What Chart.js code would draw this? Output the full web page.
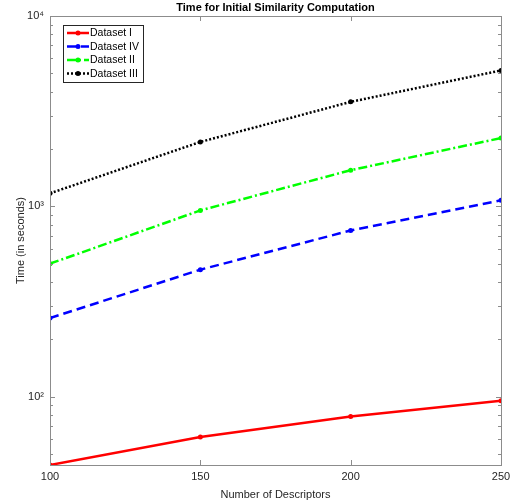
<!DOCTYPE html>
<html>
<head>
<meta charset="utf-8">
<script src="https://cdn.jsdelivr.net/npm/chart.js@4.4.1/dist/chart.umd.min.js"></script>
<style>
html,body{margin:0;padding:0;background:#fff;}
canvas{display:block;}
</style>
</head>
<body>
<canvas id="c" width="522" height="502"></canvas>
<script>
const descriptors = [100, 150, 200, 250];
const datasetI   = [43.8, 61.5, 78.7, 95.2];
const datasetIV  = [259, 465, 747, 1076];
const datasetII  = [500, 952, 1549, 2285];
const datasetIII = [1171, 2180, 3540, 5176];
const seriesNames = ['Dataset I', 'Dataset IV', 'Dataset II', 'Dataset III'];
const xTicks = [100, 150, 200, 250];
const yMax = 10000;
const chartTitle = 'Time for Initial Similarity Computation';

const FONT = '"Liberation Sans", Arial, Helvetica, sans-serif';
const pts = arr => descriptors.map((x, i) => ({x: x, y: arr[i]}));

const styles = [
  {color: '#ff0000', dash: []},
  {color: '#0000ff', dash: [9, 5]},
  {color: '#00ff00', dash: [9, 3, 2, 3]},
  {color: '#000000', dash: [2, 2]}
];
const allSeries = [datasetI, datasetIV, datasetII, datasetIII];

const datasets = allSeries.map((arr, i) => ({
  label: seriesNames[i],
  data: pts(arr),
  borderColor: styles[i].color,
  backgroundColor: styles[i].color,
  borderWidth: 2.5,
  borderDash: styles[i].dash,
  borderCapStyle: 'butt',
  pointRadius: 2.5,
  pointBorderWidth: 0,
  pointBackgroundColor: styles[i].color,
  tension: 0
}));

const boxPlugin = {
  id: 'matlabBox',
  afterDraw(chart) {
    const ctx = chart.ctx;
    const a = chart.chartArea;
    const xs = chart.scales.x, ys = chart.scales.y;
    ctx.save();
    // title centred over the axes
    ctx.fillStyle = '#000';
    ctx.font = 'bold 11px ' + FONT;
    ctx.textAlign = 'center';
    ctx.textBaseline = 'middle';
    ctx.fillText(chartTitle, (a.left + a.right) / 2, 8);

    ctx.strokeStyle = '#8c8c8c';
    ctx.lineWidth = 1;
    ctx.strokeRect(Math.round(a.left) + 0.5, Math.round(a.top) + 0.5,
                   Math.round(a.right - a.left), Math.round(a.bottom - a.top));
    ctx.beginPath();
    xTicks.forEach(v => {
      const px = Math.round(xs.getPixelForValue(v)) + 0.5;
      ctx.moveTo(px, a.bottom); ctx.lineTo(px, a.bottom - 5);
      ctx.moveTo(px, a.top); ctx.lineTo(px, a.top + 5);
    });
    ys.ticks.forEach(t => {
      const v = t.value;
      const lg = Math.log10(v);
      const major = Math.abs(lg - Math.round(lg)) < 1e-9;
      const mant = v / Math.pow(10, Math.floor(lg + 1e-9));
      if (!major && Math.abs(mant - Math.round(mant)) > 1e-6) return;
      const py = Math.round(ys.getPixelForValue(v)) + 0.5;
      const len = major ? 5 : 3;
      ctx.moveTo(a.left, py); ctx.lineTo(a.left + len, py);
      ctx.moveTo(a.right, py); ctx.lineTo(a.right - len, py);
    });
    ctx.stroke();

    // legend
    const lx = 63, ly = 25, lw = 80, lh = 57;
    ctx.fillStyle = '#ffffff';
    ctx.fillRect(lx, ly, lw, lh);
    ctx.strokeStyle = '#262626';
    ctx.strokeRect(lx + 0.5, ly + 0.5, lw, lh);
    const rows = [33, 46.5, 60, 73.5];
    chart.data.datasets.forEach((ds, i) => {
      const y = rows[i];
      ctx.beginPath();
      ctx.setLineDash(ds.borderDash);
      ctx.strokeStyle = ds.borderColor;
      ctx.lineWidth = 2.5;
      ctx.moveTo(67, y); ctx.lineTo(89, y);
      ctx.stroke();
      ctx.setLineDash([]);
      ctx.beginPath();
      ctx.fillStyle = ds.borderColor;
      ctx.arc(78, y, 2.5, 0, Math.PI * 2);
      ctx.fill();
      ctx.fillStyle = '#000';
      ctx.font = '10.5px ' + FONT;
      ctx.textBaseline = 'middle';
      ctx.textAlign = 'left';
      ctx.fillText(ds.label, 90, y + 0.5);
    });
    ctx.restore();
  }
};

const supers = {'0':'⁰','1':'¹','2':'²','3':'³','4':'⁴','5':'⁵','6':'⁶','7':'⁷','8':'⁸','9':'⁹'};

new Chart(document.getElementById('c'), {
  type: 'line',
  data: {datasets},
  options: {
    responsive: false,
    animation: false,
    layout: {padding: {left: 0, right: 21, top: 16, bottom: 0}},
    plugins: {
      legend: {display: false},
      tooltip: {enabled: false},
      title: {display: false}
    },
    scales: {
      x: {
        type: 'linear',
        min: 100, max: 250,
        afterBuildTicks(s) { s.ticks = xTicks.map(v => ({value: v})); },
        afterFit(s) { s.height = 37; },
        grid: {display: false, drawTicks: false},
        border: {display: false},
        ticks: {color: '#262626', font: {family: FONT, size: 11}, padding: 5, maxRotation: 0},
        title: {display: true, text: 'Number of Descriptors', color: '#262626',
                font: {family: FONT, size: 11}, padding: {top: 1, bottom: 0}}
      },
      y: {
        type: 'logarithmic',
        min: Math.min(...datasetI),
        max: yMax,
        afterFit(s) { s.width = 50; },
        grid: {display: false, drawTicks: false},
        border: {display: false},
        ticks: {
          color: '#262626',
          font: {family: FONT, size: 11},
          padding: 6,
          autoSkip: false,
          callback(v) {
            const lg = Math.log10(v);
            if (Math.abs(lg - Math.round(lg)) < 1e-9) {
              return '10' + String(Math.round(lg)).split('').map(c => supers[c]).join('');
            }
            return '';
          }
        },
        title: {display: true, text: 'Time (in seconds)', color: '#262626',
                font: {family: FONT, size: 11}, padding: {top: 14, bottom: 0}}
      }
    }
  },
  plugins: [boxPlugin]
});
</script>
</body>
</html>
